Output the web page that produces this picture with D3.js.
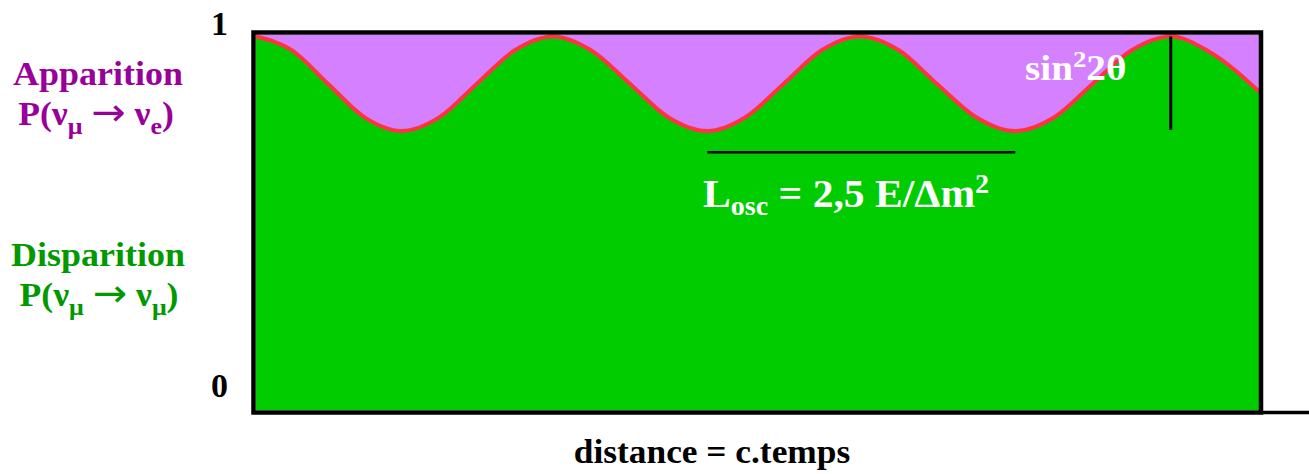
<!DOCTYPE html>
<html>
<head>
<meta charset="utf-8">
<script src="https://cdn.jsdelivr.net/npm/d3@7/dist/d3.min.js"></script>
<style>
  html, body { margin: 0; padding: 0; background: #fff; }
  svg { display: block; }
  text { font-family: "Liberation Serif", "Times New Roman", serif; font-weight: bold; }
  .arrow { font-family: "DejaVu Sans", sans-serif; font-weight: normal; }
</style>
</head>
<body>
<svg id="chart" width="1309" height="474"></svg>
<script>
// Survival probability P(νμ → νμ) along the flight distance (arbitrary units)
const distance = [0, 3.6, 7.2, 10.8, 14.5, 18.3, 22.0, 25.8, 29.6, 33.4, 37.3, 41.1, 45.0,
                  48.8, 52.6, 56.4, 60.2, 64.1, 67.9, 71.8, 75.7, 79.6, 83.4, 87.3, 91.2, 95.0, 100];
const survival = [1.000, 0.963, 0.873, 0.784, 0.747, 0.784, 0.873, 0.963, 1.000, 0.963, 0.873, 0.784, 0.747,
                  0.784, 0.873, 0.963, 1.000, 0.963, 0.873, 0.784, 0.747, 0.784, 0.873, 0.963, 1.000, 0.960, 0.853];
const yTicks = [0, 1];
// Oscillation length marker (between two minima) and amplitude marker (at a maximum)
const oscMinima = [45.0, 75.7];
const oscMarkerLevel = 0.69;
const ampAt = 91.2;
const ampRange = [1.0, 0.75];

const svg = d3.select("#chart");
const x = d3.scaleLinear().domain([0, 100]).range([256, 1259]);
const y = d3.scaleLinear().domain([0, 1]).range([410, 36.5]);
const pts = distance.map((d, i) => [d, survival[i]]);

const colors = { violet: "#d580ff", green: "#00cc00", red: "#ff3340",
                 appear: "#990099", disappear: "#009900" };

// Appearance region (the whole box), then survival area on top
svg.append("rect")
  .attr("x", x(0)).attr("y", y(1) - 1.5)
  .attr("width", x(100) - x(0)).attr("height", y(0) - y(1) + 1.5)
  .attr("fill", colors.violet);

svg.append("path")
  .datum(pts)
  .attr("fill", colors.green)
  .attr("d", d3.area().x(d => x(d[0])).y0(y(0)).y1(d => y(d[1])).curve(d3.curveMonotoneX));

svg.append("path")
  .datum(pts)
  .attr("fill", "none")
  .attr("stroke", colors.red)
  .attr("stroke-width", 4)
  .attr("d", d3.line().x(d => x(d[0])).y(d => y(d[1])).curve(d3.curveMonotoneX));

// Frame
svg.append("rect")
  .attr("x", 253.5).attr("y", 32.5)
  .attr("width", 1261 - 253.5).attr("height", 412.5 - 32.5)
  .attr("fill", "none").attr("stroke", "#000").attr("stroke-width", 4.5);
svg.append("line")
  .attr("x1", 1261).attr("x2", 1309).attr("y1", 412.5).attr("y2", 412.5)
  .attr("stroke", "#000").attr("stroke-width", 3.5);

// Markers
svg.append("line")
  .attr("x1", x(oscMinima[0])).attr("x2", x(oscMinima[1]))
  .attr("y1", y(oscMarkerLevel)).attr("y2", y(oscMarkerLevel))
  .attr("stroke", "#000").attr("stroke-width", 2.5);
svg.append("line")
  .attr("x1", x(ampAt)).attr("x2", x(ampAt))
  .attr("y1", y(ampRange[0])).attr("y2", y(ampRange[1]))
  .attr("stroke", "#000").attr("stroke-width", 3);

// Helper: text with a slight horizontal stretch
function label(tx, ty, size, fill, anchor, sx) {
  return svg.append("text")
    .attr("transform", `translate(${tx},${ty}) scale(${sx},1)`)
    .attr("font-size", size)
    .attr("fill", fill)
    .attr("text-anchor", anchor);
}

// Y tick labels
const tickY = { 0: 397, 1: 35 };
yTicks.forEach(t => {
  label(228, tickY[t], 34, "#000", "end", 1.0).text(t);
});

// P(νμ → νx) with subscripts
function transition(el, sub1, sub2) {
  el.append("tspan").text("P(ν");
  el.append("tspan").attr("font-size", 24).attr("dy", 9).text(sub1);
  el.append("tspan").attr("dy", -9).text(" ");
  el.append("tspan").attr("class", "arrow").attr("font-size", 38).attr("dy", 0).text("→");
  el.append("tspan").attr("dy", 0).text(" ν");
  el.append("tspan").attr("font-size", 24).attr("dy", 9).text(sub2);
  el.append("tspan").attr("dy", -9).text(")");
}

// Left-hand titles
label(98, 85, 33, colors.appear, "middle", 1.09).text("Apparition");
transition(label(96, 125, 33, colors.appear, "middle", 1.08), "μ", "e");

label(98, 266, 33, colors.disappear, "middle", 1.09).text("Disparition");
transition(label(99, 306, 33, colors.disappear, "middle", 1.08), "μ", "μ");

// Oscillation length
const losc = label(703, 207, 40, "#fff", "start", 1.04);
losc.append("tspan").text("L");
losc.append("tspan").attr("font-size", 27).attr("dy", 8).text("osc");
losc.append("tspan").attr("dy", -8).text(" = 2,5 E/Δm");
losc.append("tspan").attr("font-size", 27).attr("dy", -14).text("2");

// Mixing amplitude
const amp = label(1025, 80, 35, "#fff", "start", 1.12);
amp.append("tspan").text("sin");
amp.append("tspan").attr("font-size", 24).attr("dy", -13).text("2");
amp.append("tspan").attr("dy", 13).text("2θ");

// X axis title
label(712, 463, 34, "#000", "middle", 1.04).text("distance = c.temps");
</script>
</body>
</html>
